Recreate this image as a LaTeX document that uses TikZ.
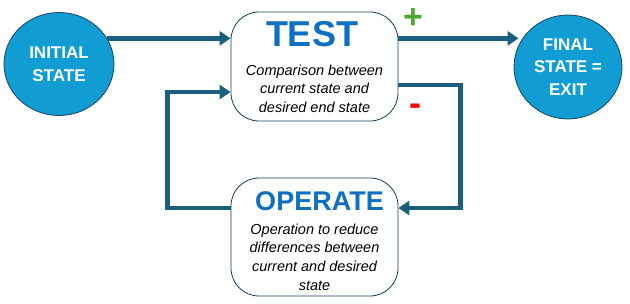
\documentclass[tikz,border=0pt]{standalone}
\usepackage{fontspec}
\setmainfont{Liberation Sans}
\usetikzlibrary{arrows.meta,shapes.geometric}

\definecolor{circfill}{RGB}{17,156,212}
\definecolor{circline}{RGB}{28,68,96}
\definecolor{flowcol}{RGB}{26,94,128}
\definecolor{titleblue}{RGB}{14,112,192}
\definecolor{boxline}{RGB}{22,62,92}
\definecolor{plusgreen}{RGB}{78,167,46}

\tikzset{
  statecirc/.style={ellipse, draw=circline, line width=0.8pt, fill=circfill,
    minimum width=110pt, minimum height=103pt, inner sep=0pt, text=white,
    align=center, font=\fontsize{17}{22.8}\selectfont\bfseries},
  phasebox/.style={draw=boxline, line width=0.8pt, fill=white,
    rounded corners=28pt, minimum width=167pt, inner sep=0pt},
  phasetitle/.style={inner sep=0pt, text=titleblue, font=\bfseries},
  phasetext/.style={inner sep=0pt, align=center,
    font=\fontsize{14.5}{18.6}\selectfont\itshape},
  flow/.style={draw=flowcol, line width=4.6pt,
    -{Triangle[length=11pt,width=14pt]}},
  signlbl/.style={inner sep=0pt, font=\fontsize{34}{34}\selectfont\bfseries}
}

\begin{document}
\begin{tikzpicture}[x=1pt,y=-1pt]
\useasboundingbox (0,0) rectangle (630,303);

% States
\node[statecirc] (init) at (59,64) {INITIAL\\STATE};
\node[statecirc, minimum width=108pt, minimum height=104pt] (final) at (568,67) {FINAL\\STATE =\\EXIT};

% Test box
\node[phasebox, minimum height=109pt] (test) at (314.5,66.5) {};
\node[phasetitle, font=\fontsize{36}{36}\selectfont\bfseries] (testname) at (312,34) {TEST};
\node[phasetext] (testtext) at (314.5,88.5) {Comparison between\\current state and\\desired end state};

% Operate box
\node[phasebox, minimum height=118pt] (operate) at (314.5,237) {};
\node[phasetitle, font=\fontsize{27}{27}\selectfont\bfseries] (opname) at (319.5,201) {OPERATE};
\node[phasetext] (optext) at (314.5,257) {Operation to reduce\\differences between\\current and desired\\state};

% Connectors
\coordinate (finalhit) at ([xshift=5pt]final.west |- init.28);
\draw[flow] (init.28) -- (init.28 -| test.west);
\draw[flow] (test.east |- init.28) -- (finalhit);
\draw[flow] ([yshift=-18.5pt]test.east) -- ++(62,0) |- ([yshift=29pt]operate.east);
\draw[flow] ([yshift=29pt]operate.west) -- ++(-63,0) |- ([yshift=-25.5pt]test.west);

% Signs
\node[signlbl, text=plusgreen] (plus) at (413,19) {+};
\node[signlbl, text=red, font=\fontsize{36}{36}\selectfont\bfseries] (minus) at (415,110) {-};

\end{tikzpicture}
\end{document}
